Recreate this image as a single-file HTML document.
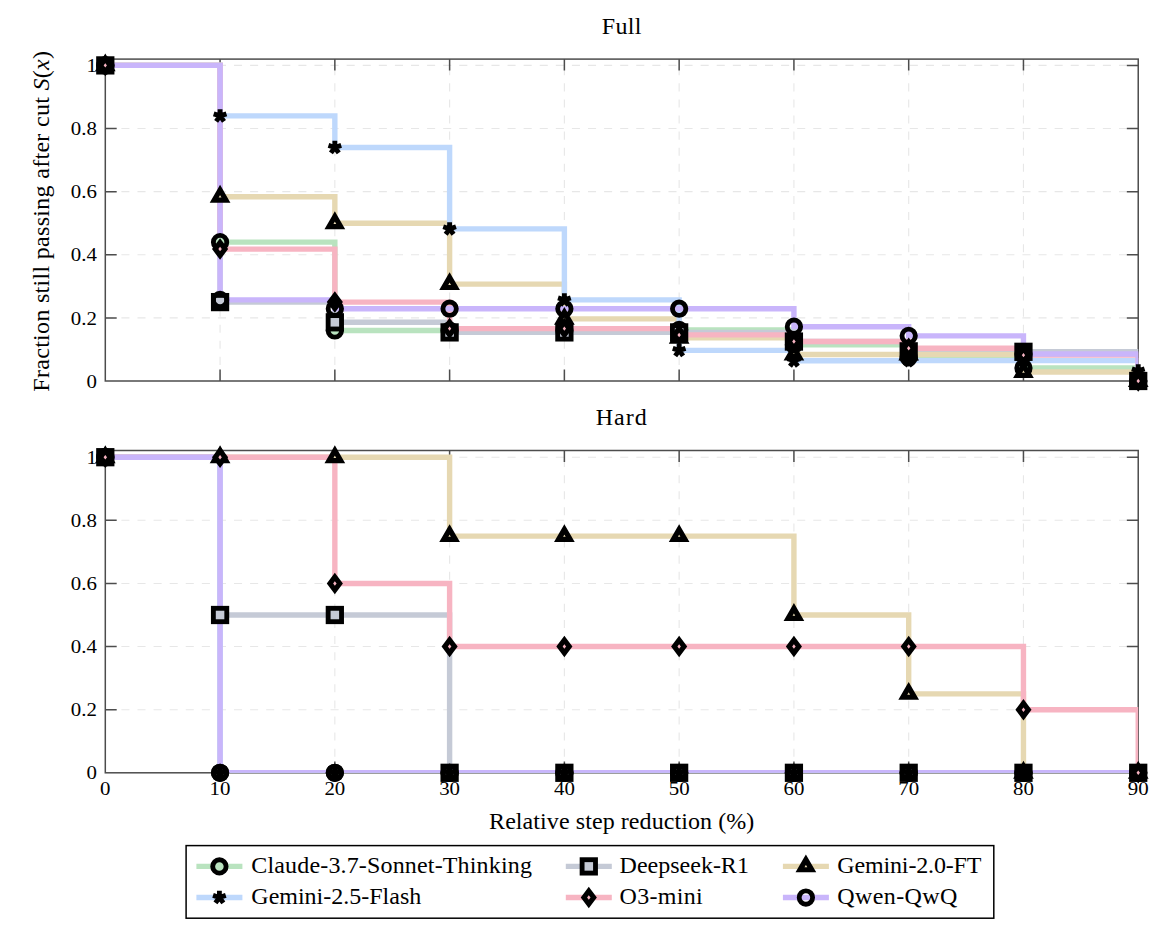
<!DOCTYPE html>
<html><head><meta charset="utf-8"><title>chart</title>
<style>html,body{margin:0;padding:0;background:#fff;width:1171px;height:927px;overflow:hidden} svg{display:block}</style>
</head><body>
<svg width="1171" height="927" viewBox="0 0 1171 927">
<style>text{font-family:"Liberation Serif",serif;fill:#000} .tk{font-size:19px} .lb{font-size:24px}</style>
<rect width="1171" height="927" fill="#fff"/>
<clipPath id="clip0"><rect x="105.3" y="59.1" width="1032.93" height="321.9"/></clipPath>
<path d="M220.07,381.0 L220.07,59.1 M334.84,381.0 L334.84,59.1 M449.61,381.0 L449.61,59.1 M564.38,381.0 L564.38,59.1 M679.15,381.0 L679.15,59.1 M793.92,381.0 L793.92,59.1 M908.69,381.0 L908.69,59.1 M1023.46,381.0 L1023.46,59.1 M105.3,317.88 L1138.23,317.88 M105.3,254.76 L1138.23,254.76 M105.3,191.64 L1138.23,191.64 M105.3,128.52 L1138.23,128.52 M105.3,65.40 L1138.23,65.40" stroke="#e7e7e7" stroke-width="1.1" stroke-dasharray="8.045 8.045" fill="none"/>
<path d="M220.07,381.0 l0,-11.4 M220.07,59.1 l0,11.4 M334.84,381.0 l0,-11.4 M334.84,59.1 l0,11.4 M449.61,381.0 l0,-11.4 M449.61,59.1 l0,11.4 M564.38,381.0 l0,-11.4 M564.38,59.1 l0,11.4 M679.15,381.0 l0,-11.4 M679.15,59.1 l0,11.4 M793.92,381.0 l0,-11.4 M793.92,59.1 l0,11.4 M908.69,381.0 l0,-11.4 M908.69,59.1 l0,11.4 M1023.46,381.0 l0,-11.4 M1023.46,59.1 l0,11.4 M105.3,317.88 l11.4,0 M1138.23,317.88 l-11.4,0 M105.3,254.76 l11.4,0 M1138.23,254.76 l-11.4,0 M105.3,191.64 l11.4,0 M1138.23,191.64 l-11.4,0 M105.3,128.52 l11.4,0 M1138.23,128.52 l-11.4,0 M105.3,65.40 l11.4,0 M1138.23,65.40 l-11.4,0" stroke="#4d4d4d" stroke-width="1.5" fill="none"/>
<rect x="105.3" y="59.1" width="1032.93" height="321.9" fill="none" stroke="#4d4d4d" stroke-width="1.5"/>
<path d="M105.30,65.40 L220.07,65.40 L220.07,242.14 L334.84,242.14 L334.84,330.50 L449.61,330.50 L449.61,330.50 L564.38,330.50 L564.38,330.50 L679.15,330.50 L679.15,329.87 L793.92,329.87 L793.92,344.71 L908.69,344.71 L908.69,357.33 L1023.46,357.33 L1023.46,368.06 L1138.23,368.06 L1138.23,381.00" stroke="#b9e3bf" stroke-width="5.4" fill="none" stroke-linejoin="miter" clip-path="url(#clip0)"/>
<path d="M105.30,65.40 L220.07,65.40 L220.07,302.10 L334.84,302.10 L334.84,322.30 L449.61,322.30 L449.61,332.40 L564.38,332.40 L564.38,332.40 L679.15,332.40 L679.15,332.40 L793.92,332.40 L793.92,341.55 L908.69,341.55 L908.69,351.33 L1023.46,351.33 L1023.46,351.81 L1138.23,351.81 L1138.23,381.00" stroke="#c5cad6" stroke-width="5.4" fill="none" stroke-linejoin="miter" clip-path="url(#clip0)"/>
<path d="M105.30,65.40 L220.07,65.40 L220.07,196.69 L334.84,196.69 L334.84,223.20 L449.61,223.20 L449.61,284.11 L564.38,284.11 L564.38,318.83 L679.15,318.83 L679.15,337.76 L793.92,337.76 L793.92,354.49 L908.69,354.49 L908.69,354.49 L1023.46,354.49 L1023.46,372.01 L1138.23,372.01 L1138.23,381.00" stroke="#e6d8b2" stroke-width="5.4" fill="none" stroke-linejoin="miter" clip-path="url(#clip0)"/>
<path d="M105.30,65.40 L220.07,65.40 L220.07,115.90 L334.84,115.90 L334.84,147.46 L449.61,147.46 L449.61,228.88 L564.38,228.88 L564.38,299.89 L679.15,299.89 L679.15,350.39 L793.92,350.39 L793.92,360.80 L908.69,360.80 L908.69,360.61 L1023.46,360.61 L1023.46,360.61 L1138.23,360.61 L1138.23,370.90" stroke="#bed8fc" stroke-width="5.4" fill="none" stroke-linejoin="miter" clip-path="url(#clip0)"/>
<path d="M105.30,65.40 L220.07,65.40 L220.07,249.08 L334.84,249.08 L334.84,302.10 L449.61,302.10 L449.61,328.61 L564.38,328.61 L564.38,328.61 L679.15,328.61 L679.15,334.92 L793.92,334.92 L793.92,341.55 L908.69,341.55 L908.69,348.18 L1023.46,348.18 L1023.46,355.12 L1138.23,355.12 L1138.23,381.00" stroke="#f7b4c2" stroke-width="5.4" fill="none" stroke-linejoin="miter" clip-path="url(#clip0)"/>
<path d="M105.30,65.40 L220.07,65.40 L220.07,299.89 L334.84,299.89 L334.84,308.73 L449.61,308.73 L449.61,308.73 L564.38,308.73 L564.38,308.73 L679.15,308.73 L679.15,308.73 L793.92,308.73 L793.92,326.72 L908.69,326.72 L908.69,335.87 L1023.46,335.87 L1023.46,353.98 L1138.23,353.98 L1138.23,381.00" stroke="#c9b5fb" stroke-width="5.4" fill="none" stroke-linejoin="miter" clip-path="url(#clip0)"/>
<circle cx="105.30" cy="65.40" r="6.7" fill="#b9e3bf" stroke="#000" stroke-width="4.85"/>
<circle cx="220.07" cy="242.14" r="6.7" fill="#b9e3bf" stroke="#000" stroke-width="4.85"/>
<circle cx="334.84" cy="330.50" r="6.7" fill="#b9e3bf" stroke="#000" stroke-width="4.85"/>
<circle cx="449.61" cy="330.50" r="6.7" fill="#b9e3bf" stroke="#000" stroke-width="4.85"/>
<circle cx="564.38" cy="330.50" r="6.7" fill="#b9e3bf" stroke="#000" stroke-width="4.85"/>
<circle cx="679.15" cy="329.87" r="6.7" fill="#b9e3bf" stroke="#000" stroke-width="4.85"/>
<circle cx="793.92" cy="344.71" r="6.7" fill="#b9e3bf" stroke="#000" stroke-width="4.85"/>
<circle cx="908.69" cy="357.33" r="6.7" fill="#b9e3bf" stroke="#000" stroke-width="4.85"/>
<circle cx="1023.46" cy="368.06" r="6.7" fill="#b9e3bf" stroke="#000" stroke-width="4.85"/>
<circle cx="1138.23" cy="381.00" r="6.7" fill="#b9e3bf" stroke="#000" stroke-width="4.85"/>
<rect x="98.60" y="58.70" width="13.4" height="13.4" fill="#c5cad6" stroke="#000" stroke-width="4.85" stroke-linejoin="miter"/>
<rect x="213.37" y="295.40" width="13.4" height="13.4" fill="#c5cad6" stroke="#000" stroke-width="4.85" stroke-linejoin="miter"/>
<rect x="328.14" y="315.60" width="13.4" height="13.4" fill="#c5cad6" stroke="#000" stroke-width="4.85" stroke-linejoin="miter"/>
<rect x="442.91" y="325.70" width="13.4" height="13.4" fill="#c5cad6" stroke="#000" stroke-width="4.85" stroke-linejoin="miter"/>
<rect x="557.68" y="325.70" width="13.4" height="13.4" fill="#c5cad6" stroke="#000" stroke-width="4.85" stroke-linejoin="miter"/>
<rect x="672.45" y="325.70" width="13.4" height="13.4" fill="#c5cad6" stroke="#000" stroke-width="4.85" stroke-linejoin="miter"/>
<rect x="787.22" y="334.85" width="13.4" height="13.4" fill="#c5cad6" stroke="#000" stroke-width="4.85" stroke-linejoin="miter"/>
<rect x="901.99" y="344.63" width="13.4" height="13.4" fill="#c5cad6" stroke="#000" stroke-width="4.85" stroke-linejoin="miter"/>
<rect x="1016.76" y="345.11" width="13.4" height="13.4" fill="#c5cad6" stroke="#000" stroke-width="4.85" stroke-linejoin="miter"/>
<rect x="1131.53" y="374.30" width="13.4" height="13.4" fill="#c5cad6" stroke="#000" stroke-width="4.85" stroke-linejoin="miter"/>
<path d="M105.30,58.65 L99.45,68.77 L111.15,68.77 Z" fill="#e6d8b2" stroke="#000" stroke-width="5.2" stroke-linejoin="miter" stroke-miterlimit="10"/>
<path d="M220.07,189.94 L214.22,200.06 L225.92,200.06 Z" fill="#e6d8b2" stroke="#000" stroke-width="5.2" stroke-linejoin="miter" stroke-miterlimit="10"/>
<path d="M334.84,216.45 L328.99,226.57 L340.69,226.57 Z" fill="#e6d8b2" stroke="#000" stroke-width="5.2" stroke-linejoin="miter" stroke-miterlimit="10"/>
<path d="M449.61,277.36 L443.76,287.49 L455.46,287.49 Z" fill="#e6d8b2" stroke="#000" stroke-width="5.2" stroke-linejoin="miter" stroke-miterlimit="10"/>
<path d="M564.38,312.08 L558.53,322.20 L570.23,322.20 Z" fill="#e6d8b2" stroke="#000" stroke-width="5.2" stroke-linejoin="miter" stroke-miterlimit="10"/>
<path d="M679.15,331.01 L673.30,341.14 L685.00,341.14 Z" fill="#e6d8b2" stroke="#000" stroke-width="5.2" stroke-linejoin="miter" stroke-miterlimit="10"/>
<path d="M793.92,347.74 L788.07,357.86 L799.77,357.86 Z" fill="#e6d8b2" stroke="#000" stroke-width="5.2" stroke-linejoin="miter" stroke-miterlimit="10"/>
<path d="M908.69,347.74 L902.84,357.86 L914.54,357.86 Z" fill="#e6d8b2" stroke="#000" stroke-width="5.2" stroke-linejoin="miter" stroke-miterlimit="10"/>
<path d="M1023.46,365.26 L1017.61,375.38 L1029.31,375.38 Z" fill="#e6d8b2" stroke="#000" stroke-width="5.2" stroke-linejoin="miter" stroke-miterlimit="10"/>
<path d="M1138.23,374.25 L1132.38,384.38 L1144.08,384.38 Z" fill="#e6d8b2" stroke="#000" stroke-width="5.2" stroke-linejoin="miter" stroke-miterlimit="10"/>
<path d="M105.30,58.70 L105.30,65.40 M111.67,63.33 L105.30,65.40 M109.24,70.82 L105.30,65.40 M101.36,70.82 L105.30,65.40 M98.93,63.33 L105.30,65.40" fill="none" stroke="#000" stroke-width="4.85" stroke-linecap="butt"/>
<path d="M220.07,109.20 L220.07,115.90 M226.44,113.83 L220.07,115.90 M224.01,121.32 L220.07,115.90 M216.13,121.32 L220.07,115.90 M213.70,113.83 L220.07,115.90" fill="none" stroke="#000" stroke-width="4.85" stroke-linecap="butt"/>
<path d="M334.84,140.76 L334.84,147.46 M341.21,145.39 L334.84,147.46 M338.78,152.88 L334.84,147.46 M330.90,152.88 L334.84,147.46 M328.47,145.39 L334.84,147.46" fill="none" stroke="#000" stroke-width="4.85" stroke-linecap="butt"/>
<path d="M449.61,222.18 L449.61,228.88 M455.98,226.81 L449.61,228.88 M453.55,234.30 L449.61,228.88 M445.67,234.30 L449.61,228.88 M443.24,226.81 L449.61,228.88" fill="none" stroke="#000" stroke-width="4.85" stroke-linecap="butt"/>
<path d="M564.38,293.19 L564.38,299.89 M570.75,297.82 L564.38,299.89 M568.32,305.31 L564.38,299.89 M560.44,305.31 L564.38,299.89 M558.01,297.82 L564.38,299.89" fill="none" stroke="#000" stroke-width="4.85" stroke-linecap="butt"/>
<path d="M679.15,343.69 L679.15,350.39 M685.52,348.32 L679.15,350.39 M683.09,355.81 L679.15,350.39 M675.21,355.81 L679.15,350.39 M672.78,348.32 L679.15,350.39" fill="none" stroke="#000" stroke-width="4.85" stroke-linecap="butt"/>
<path d="M793.92,354.10 L793.92,360.80 M800.29,358.73 L793.92,360.80 M797.86,366.22 L793.92,360.80 M789.98,366.22 L793.92,360.80 M787.55,358.73 L793.92,360.80" fill="none" stroke="#000" stroke-width="4.85" stroke-linecap="butt"/>
<path d="M908.69,353.91 L908.69,360.61 M915.06,358.54 L908.69,360.61 M912.63,366.03 L908.69,360.61 M904.75,366.03 L908.69,360.61 M902.32,358.54 L908.69,360.61" fill="none" stroke="#000" stroke-width="4.85" stroke-linecap="butt"/>
<path d="M1023.46,353.91 L1023.46,360.61 M1029.83,358.54 L1023.46,360.61 M1027.40,366.03 L1023.46,360.61 M1019.52,366.03 L1023.46,360.61 M1017.09,358.54 L1023.46,360.61" fill="none" stroke="#000" stroke-width="4.85" stroke-linecap="butt"/>
<path d="M1138.23,364.20 L1138.23,370.90 M1144.60,368.83 L1138.23,370.90 M1142.17,376.32 L1138.23,370.90 M1134.29,376.32 L1138.23,370.90 M1131.86,368.83 L1138.23,370.90" fill="none" stroke="#000" stroke-width="4.85" stroke-linecap="butt"/>
<path d="M105.30,58.90 L110.17,65.40 L105.30,71.90 L100.42,65.40 Z" fill="#f7b4c2" stroke="#000" stroke-width="5.1" stroke-linejoin="miter" stroke-miterlimit="10"/>
<path d="M220.07,242.58 L224.94,249.08 L220.07,255.58 L215.19,249.08 Z" fill="#f7b4c2" stroke="#000" stroke-width="5.1" stroke-linejoin="miter" stroke-miterlimit="10"/>
<path d="M334.84,295.60 L339.72,302.10 L334.84,308.60 L329.97,302.10 Z" fill="#f7b4c2" stroke="#000" stroke-width="5.1" stroke-linejoin="miter" stroke-miterlimit="10"/>
<path d="M449.61,322.11 L454.49,328.61 L449.61,335.11 L444.74,328.61 Z" fill="#f7b4c2" stroke="#000" stroke-width="5.1" stroke-linejoin="miter" stroke-miterlimit="10"/>
<path d="M564.38,322.11 L569.25,328.61 L564.38,335.11 L559.50,328.61 Z" fill="#f7b4c2" stroke="#000" stroke-width="5.1" stroke-linejoin="miter" stroke-miterlimit="10"/>
<path d="M679.15,328.42 L684.02,334.92 L679.15,341.42 L674.27,334.92 Z" fill="#f7b4c2" stroke="#000" stroke-width="5.1" stroke-linejoin="miter" stroke-miterlimit="10"/>
<path d="M793.92,335.05 L798.79,341.55 L793.92,348.05 L789.04,341.55 Z" fill="#f7b4c2" stroke="#000" stroke-width="5.1" stroke-linejoin="miter" stroke-miterlimit="10"/>
<path d="M908.69,341.68 L913.57,348.18 L908.69,354.68 L903.82,348.18 Z" fill="#f7b4c2" stroke="#000" stroke-width="5.1" stroke-linejoin="miter" stroke-miterlimit="10"/>
<path d="M1023.46,348.62 L1028.34,355.12 L1023.46,361.62 L1018.59,355.12 Z" fill="#f7b4c2" stroke="#000" stroke-width="5.1" stroke-linejoin="miter" stroke-miterlimit="10"/>
<path d="M1138.23,374.50 L1143.11,381.00 L1138.23,387.50 L1133.36,381.00 Z" fill="#f7b4c2" stroke="#000" stroke-width="5.1" stroke-linejoin="miter" stroke-miterlimit="10"/>
<circle cx="105.30" cy="65.40" r="6.7" fill="none" stroke="#000" stroke-width="4.85"/>
<circle cx="220.07" cy="299.89" r="6.7" fill="none" stroke="#000" stroke-width="4.85"/>
<circle cx="334.84" cy="308.73" r="6.7" fill="none" stroke="#000" stroke-width="4.85"/>
<circle cx="449.61" cy="308.73" r="6.7" fill="none" stroke="#000" stroke-width="4.85"/>
<circle cx="564.38" cy="308.73" r="6.7" fill="none" stroke="#000" stroke-width="4.85"/>
<circle cx="679.15" cy="308.73" r="6.7" fill="none" stroke="#000" stroke-width="4.85"/>
<circle cx="793.92" cy="326.72" r="6.7" fill="none" stroke="#000" stroke-width="4.85"/>
<circle cx="908.69" cy="335.87" r="6.7" fill="none" stroke="#000" stroke-width="4.85"/>
<circle cx="1023.46" cy="353.98" r="6.7" fill="none" stroke="#000" stroke-width="4.85"/>
<circle cx="1138.23" cy="381.00" r="6.7" fill="none" stroke="#000" stroke-width="4.85"/>
<text transform="translate(97,387.65) scale(1.1,1)" text-anchor="end" class="tk">0</text>
<text transform="translate(97,324.53) scale(1.1,1)" text-anchor="end" class="tk">0.2</text>
<text transform="translate(97,261.41) scale(1.1,1)" text-anchor="end" class="tk">0.4</text>
<text transform="translate(97,198.29) scale(1.1,1)" text-anchor="end" class="tk">0.6</text>
<text transform="translate(97,135.17) scale(1.1,1)" text-anchor="end" class="tk">0.8</text>
<text transform="translate(97,72.05) scale(1.1,1)" text-anchor="end" class="tk">1</text>
<text x="621.75" y="33.90" text-anchor="middle" class="lb" letter-spacing="0.3">Full</text>
<clipPath id="clip1"><rect x="105.3" y="450.5" width="1032.93" height="322.29999999999995"/></clipPath>
<path d="M220.07,772.8 L220.07,450.5 M334.84,772.8 L334.84,450.5 M449.61,772.8 L449.61,450.5 M564.38,772.8 L564.38,450.5 M679.15,772.8 L679.15,450.5 M793.92,772.8 L793.92,450.5 M908.69,772.8 L908.69,450.5 M1023.46,772.8 L1023.46,450.5 M105.3,709.68 L1138.23,709.68 M105.3,646.56 L1138.23,646.56 M105.3,583.44 L1138.23,583.44 M105.3,520.32 L1138.23,520.32 M105.3,457.20 L1138.23,457.20" stroke="#e7e7e7" stroke-width="1.1" stroke-dasharray="8.045 8.045" fill="none"/>
<path d="M220.07,772.8 l0,-11.4 M220.07,450.5 l0,11.4 M334.84,772.8 l0,-11.4 M334.84,450.5 l0,11.4 M449.61,772.8 l0,-11.4 M449.61,450.5 l0,11.4 M564.38,772.8 l0,-11.4 M564.38,450.5 l0,11.4 M679.15,772.8 l0,-11.4 M679.15,450.5 l0,11.4 M793.92,772.8 l0,-11.4 M793.92,450.5 l0,11.4 M908.69,772.8 l0,-11.4 M908.69,450.5 l0,11.4 M1023.46,772.8 l0,-11.4 M1023.46,450.5 l0,11.4 M105.3,709.68 l11.4,0 M1138.23,709.68 l-11.4,0 M105.3,646.56 l11.4,0 M1138.23,646.56 l-11.4,0 M105.3,583.44 l11.4,0 M1138.23,583.44 l-11.4,0 M105.3,520.32 l11.4,0 M1138.23,520.32 l-11.4,0 M105.3,457.20 l11.4,0 M1138.23,457.20 l-11.4,0" stroke="#4d4d4d" stroke-width="1.5" fill="none"/>
<rect x="105.3" y="450.5" width="1032.93" height="322.29999999999995" fill="none" stroke="#4d4d4d" stroke-width="1.5"/>
<path d="M105.30,457.20 L220.07,457.20 L220.07,772.80 L334.84,772.80 L334.84,772.80 L449.61,772.80 L449.61,772.80 L564.38,772.80 L564.38,772.80 L679.15,772.80 L679.15,772.80 L793.92,772.80 L793.92,772.80 L908.69,772.80 L908.69,772.80 L1023.46,772.80 L1023.46,772.80 L1138.23,772.80 L1138.23,772.80" stroke="#b9e3bf" stroke-width="5.4" fill="none" stroke-linejoin="miter" clip-path="url(#clip1)"/>
<path d="M105.30,457.20 L220.07,457.20 L220.07,615.00 L334.84,615.00 L334.84,615.00 L449.61,615.00 L449.61,772.80 L564.38,772.80 L564.38,772.80 L679.15,772.80 L679.15,772.80 L793.92,772.80 L793.92,772.80 L908.69,772.80 L908.69,772.80 L1023.46,772.80 L1023.46,772.80 L1138.23,772.80 L1138.23,772.80" stroke="#c5cad6" stroke-width="5.4" fill="none" stroke-linejoin="miter" clip-path="url(#clip1)"/>
<path d="M105.30,457.20 L220.07,457.20 L220.07,457.20 L334.84,457.20 L334.84,457.20 L449.61,457.20 L449.61,536.10 L564.38,536.10 L564.38,536.10 L679.15,536.10 L679.15,536.10 L793.92,536.10 L793.92,615.00 L908.69,615.00 L908.69,693.90 L1023.46,693.90 L1023.46,772.80 L1138.23,772.80 L1138.23,772.80" stroke="#e6d8b2" stroke-width="5.4" fill="none" stroke-linejoin="miter" clip-path="url(#clip1)"/>
<path d="M105.30,457.20 L220.07,457.20 L220.07,772.80 L334.84,772.80 L334.84,772.80 L449.61,772.80 L449.61,772.80 L564.38,772.80 L564.38,772.80 L679.15,772.80 L679.15,772.80 L793.92,772.80 L793.92,772.80 L908.69,772.80 L908.69,772.80 L1023.46,772.80 L1023.46,772.80 L1138.23,772.80 L1138.23,772.80" stroke="#bed8fc" stroke-width="5.4" fill="none" stroke-linejoin="miter" clip-path="url(#clip1)"/>
<path d="M105.30,457.20 L220.07,457.20 L220.07,457.20 L334.84,457.20 L334.84,583.44 L449.61,583.44 L449.61,646.56 L564.38,646.56 L564.38,646.56 L679.15,646.56 L679.15,646.56 L793.92,646.56 L793.92,646.56 L908.69,646.56 L908.69,646.56 L1023.46,646.56 L1023.46,709.68 L1138.23,709.68 L1138.23,772.80" stroke="#f7b4c2" stroke-width="5.4" fill="none" stroke-linejoin="miter" clip-path="url(#clip1)"/>
<path d="M105.30,457.20 L220.07,457.20 L220.07,772.80 L334.84,772.80 L334.84,772.80 L449.61,772.80 L449.61,772.80 L564.38,772.80 L564.38,772.80 L679.15,772.80 L679.15,772.80 L793.92,772.80 L793.92,772.80 L908.69,772.80 L908.69,772.80 L1023.46,772.80 L1023.46,772.80 L1138.23,772.80 L1138.23,772.80" stroke="#c9b5fb" stroke-width="5.4" fill="none" stroke-linejoin="miter" clip-path="url(#clip1)"/>
<circle cx="105.30" cy="457.20" r="6.7" fill="#b9e3bf" stroke="#000" stroke-width="4.85"/>
<circle cx="220.07" cy="772.80" r="6.7" fill="#b9e3bf" stroke="#000" stroke-width="4.85"/>
<circle cx="334.84" cy="772.80" r="6.7" fill="#b9e3bf" stroke="#000" stroke-width="4.85"/>
<circle cx="449.61" cy="772.80" r="6.7" fill="#b9e3bf" stroke="#000" stroke-width="4.85"/>
<circle cx="564.38" cy="772.80" r="6.7" fill="#b9e3bf" stroke="#000" stroke-width="4.85"/>
<circle cx="679.15" cy="772.80" r="6.7" fill="#b9e3bf" stroke="#000" stroke-width="4.85"/>
<circle cx="793.92" cy="772.80" r="6.7" fill="#b9e3bf" stroke="#000" stroke-width="4.85"/>
<circle cx="908.69" cy="772.80" r="6.7" fill="#b9e3bf" stroke="#000" stroke-width="4.85"/>
<circle cx="1023.46" cy="772.80" r="6.7" fill="#b9e3bf" stroke="#000" stroke-width="4.85"/>
<circle cx="1138.23" cy="772.80" r="6.7" fill="#b9e3bf" stroke="#000" stroke-width="4.85"/>
<rect x="98.60" y="450.50" width="13.4" height="13.4" fill="#c5cad6" stroke="#000" stroke-width="4.85" stroke-linejoin="miter"/>
<rect x="213.37" y="608.30" width="13.4" height="13.4" fill="#c5cad6" stroke="#000" stroke-width="4.85" stroke-linejoin="miter"/>
<rect x="328.14" y="608.30" width="13.4" height="13.4" fill="#c5cad6" stroke="#000" stroke-width="4.85" stroke-linejoin="miter"/>
<rect x="442.91" y="766.10" width="13.4" height="13.4" fill="#c5cad6" stroke="#000" stroke-width="4.85" stroke-linejoin="miter"/>
<rect x="557.68" y="766.10" width="13.4" height="13.4" fill="#c5cad6" stroke="#000" stroke-width="4.85" stroke-linejoin="miter"/>
<rect x="672.45" y="766.10" width="13.4" height="13.4" fill="#c5cad6" stroke="#000" stroke-width="4.85" stroke-linejoin="miter"/>
<rect x="787.22" y="766.10" width="13.4" height="13.4" fill="#c5cad6" stroke="#000" stroke-width="4.85" stroke-linejoin="miter"/>
<rect x="901.99" y="766.10" width="13.4" height="13.4" fill="#c5cad6" stroke="#000" stroke-width="4.85" stroke-linejoin="miter"/>
<rect x="1016.76" y="766.10" width="13.4" height="13.4" fill="#c5cad6" stroke="#000" stroke-width="4.85" stroke-linejoin="miter"/>
<rect x="1131.53" y="766.10" width="13.4" height="13.4" fill="#c5cad6" stroke="#000" stroke-width="4.85" stroke-linejoin="miter"/>
<path d="M105.30,450.45 L99.45,460.57 L111.15,460.57 Z" fill="#e6d8b2" stroke="#000" stroke-width="5.2" stroke-linejoin="miter" stroke-miterlimit="10"/>
<path d="M220.07,450.45 L214.22,460.57 L225.92,460.57 Z" fill="#e6d8b2" stroke="#000" stroke-width="5.2" stroke-linejoin="miter" stroke-miterlimit="10"/>
<path d="M334.84,450.45 L328.99,460.57 L340.69,460.57 Z" fill="#e6d8b2" stroke="#000" stroke-width="5.2" stroke-linejoin="miter" stroke-miterlimit="10"/>
<path d="M449.61,529.35 L443.76,539.47 L455.46,539.47 Z" fill="#e6d8b2" stroke="#000" stroke-width="5.2" stroke-linejoin="miter" stroke-miterlimit="10"/>
<path d="M564.38,529.35 L558.53,539.47 L570.23,539.47 Z" fill="#e6d8b2" stroke="#000" stroke-width="5.2" stroke-linejoin="miter" stroke-miterlimit="10"/>
<path d="M679.15,529.35 L673.30,539.47 L685.00,539.47 Z" fill="#e6d8b2" stroke="#000" stroke-width="5.2" stroke-linejoin="miter" stroke-miterlimit="10"/>
<path d="M793.92,608.25 L788.07,618.38 L799.77,618.38 Z" fill="#e6d8b2" stroke="#000" stroke-width="5.2" stroke-linejoin="miter" stroke-miterlimit="10"/>
<path d="M908.69,687.15 L902.84,697.27 L914.54,697.27 Z" fill="#e6d8b2" stroke="#000" stroke-width="5.2" stroke-linejoin="miter" stroke-miterlimit="10"/>
<path d="M1023.46,766.05 L1017.61,776.17 L1029.31,776.17 Z" fill="#e6d8b2" stroke="#000" stroke-width="5.2" stroke-linejoin="miter" stroke-miterlimit="10"/>
<path d="M1138.23,766.05 L1132.38,776.17 L1144.08,776.17 Z" fill="#e6d8b2" stroke="#000" stroke-width="5.2" stroke-linejoin="miter" stroke-miterlimit="10"/>
<path d="M105.30,450.50 L105.30,457.20 M111.67,455.13 L105.30,457.20 M109.24,462.62 L105.30,457.20 M101.36,462.62 L105.30,457.20 M98.93,455.13 L105.30,457.20" fill="none" stroke="#000" stroke-width="4.85" stroke-linecap="butt"/>
<path d="M220.07,766.10 L220.07,772.80 M226.44,770.73 L220.07,772.80 M224.01,778.22 L220.07,772.80 M216.13,778.22 L220.07,772.80 M213.70,770.73 L220.07,772.80" fill="none" stroke="#000" stroke-width="4.85" stroke-linecap="butt"/>
<path d="M334.84,766.10 L334.84,772.80 M341.21,770.73 L334.84,772.80 M338.78,778.22 L334.84,772.80 M330.90,778.22 L334.84,772.80 M328.47,770.73 L334.84,772.80" fill="none" stroke="#000" stroke-width="4.85" stroke-linecap="butt"/>
<path d="M449.61,766.10 L449.61,772.80 M455.98,770.73 L449.61,772.80 M453.55,778.22 L449.61,772.80 M445.67,778.22 L449.61,772.80 M443.24,770.73 L449.61,772.80" fill="none" stroke="#000" stroke-width="4.85" stroke-linecap="butt"/>
<path d="M564.38,766.10 L564.38,772.80 M570.75,770.73 L564.38,772.80 M568.32,778.22 L564.38,772.80 M560.44,778.22 L564.38,772.80 M558.01,770.73 L564.38,772.80" fill="none" stroke="#000" stroke-width="4.85" stroke-linecap="butt"/>
<path d="M679.15,766.10 L679.15,772.80 M685.52,770.73 L679.15,772.80 M683.09,778.22 L679.15,772.80 M675.21,778.22 L679.15,772.80 M672.78,770.73 L679.15,772.80" fill="none" stroke="#000" stroke-width="4.85" stroke-linecap="butt"/>
<path d="M793.92,766.10 L793.92,772.80 M800.29,770.73 L793.92,772.80 M797.86,778.22 L793.92,772.80 M789.98,778.22 L793.92,772.80 M787.55,770.73 L793.92,772.80" fill="none" stroke="#000" stroke-width="4.85" stroke-linecap="butt"/>
<path d="M908.69,766.10 L908.69,772.80 M915.06,770.73 L908.69,772.80 M912.63,778.22 L908.69,772.80 M904.75,778.22 L908.69,772.80 M902.32,770.73 L908.69,772.80" fill="none" stroke="#000" stroke-width="4.85" stroke-linecap="butt"/>
<path d="M1023.46,766.10 L1023.46,772.80 M1029.83,770.73 L1023.46,772.80 M1027.40,778.22 L1023.46,772.80 M1019.52,778.22 L1023.46,772.80 M1017.09,770.73 L1023.46,772.80" fill="none" stroke="#000" stroke-width="4.85" stroke-linecap="butt"/>
<path d="M1138.23,766.10 L1138.23,772.80 M1144.60,770.73 L1138.23,772.80 M1142.17,778.22 L1138.23,772.80 M1134.29,778.22 L1138.23,772.80 M1131.86,770.73 L1138.23,772.80" fill="none" stroke="#000" stroke-width="4.85" stroke-linecap="butt"/>
<path d="M105.30,450.70 L110.17,457.20 L105.30,463.70 L100.42,457.20 Z" fill="#f7b4c2" stroke="#000" stroke-width="5.1" stroke-linejoin="miter" stroke-miterlimit="10"/>
<path d="M220.07,450.70 L224.94,457.20 L220.07,463.70 L215.19,457.20 Z" fill="#f7b4c2" stroke="#000" stroke-width="5.1" stroke-linejoin="miter" stroke-miterlimit="10"/>
<path d="M334.84,576.94 L339.72,583.44 L334.84,589.94 L329.97,583.44 Z" fill="#f7b4c2" stroke="#000" stroke-width="5.1" stroke-linejoin="miter" stroke-miterlimit="10"/>
<path d="M449.61,640.06 L454.49,646.56 L449.61,653.06 L444.74,646.56 Z" fill="#f7b4c2" stroke="#000" stroke-width="5.1" stroke-linejoin="miter" stroke-miterlimit="10"/>
<path d="M564.38,640.06 L569.25,646.56 L564.38,653.06 L559.50,646.56 Z" fill="#f7b4c2" stroke="#000" stroke-width="5.1" stroke-linejoin="miter" stroke-miterlimit="10"/>
<path d="M679.15,640.06 L684.02,646.56 L679.15,653.06 L674.27,646.56 Z" fill="#f7b4c2" stroke="#000" stroke-width="5.1" stroke-linejoin="miter" stroke-miterlimit="10"/>
<path d="M793.92,640.06 L798.79,646.56 L793.92,653.06 L789.04,646.56 Z" fill="#f7b4c2" stroke="#000" stroke-width="5.1" stroke-linejoin="miter" stroke-miterlimit="10"/>
<path d="M908.69,640.06 L913.57,646.56 L908.69,653.06 L903.82,646.56 Z" fill="#f7b4c2" stroke="#000" stroke-width="5.1" stroke-linejoin="miter" stroke-miterlimit="10"/>
<path d="M1023.46,703.18 L1028.34,709.68 L1023.46,716.18 L1018.59,709.68 Z" fill="#f7b4c2" stroke="#000" stroke-width="5.1" stroke-linejoin="miter" stroke-miterlimit="10"/>
<path d="M1138.23,766.30 L1143.11,772.80 L1138.23,779.30 L1133.36,772.80 Z" fill="#f7b4c2" stroke="#000" stroke-width="5.1" stroke-linejoin="miter" stroke-miterlimit="10"/>
<circle cx="105.30" cy="457.20" r="6.7" fill="none" stroke="#000" stroke-width="4.85"/>
<circle cx="220.07" cy="772.80" r="6.7" fill="none" stroke="#000" stroke-width="4.85"/>
<circle cx="334.84" cy="772.80" r="6.7" fill="none" stroke="#000" stroke-width="4.85"/>
<circle cx="449.61" cy="772.80" r="6.7" fill="none" stroke="#000" stroke-width="4.85"/>
<circle cx="564.38" cy="772.80" r="6.7" fill="none" stroke="#000" stroke-width="4.85"/>
<circle cx="679.15" cy="772.80" r="6.7" fill="none" stroke="#000" stroke-width="4.85"/>
<circle cx="793.92" cy="772.80" r="6.7" fill="none" stroke="#000" stroke-width="4.85"/>
<circle cx="908.69" cy="772.80" r="6.7" fill="none" stroke="#000" stroke-width="4.85"/>
<circle cx="1023.46" cy="772.80" r="6.7" fill="none" stroke="#000" stroke-width="4.85"/>
<circle cx="1138.23" cy="772.80" r="6.7" fill="none" stroke="#000" stroke-width="4.85"/>
<text transform="translate(97,779.45) scale(1.1,1)" text-anchor="end" class="tk">0</text>
<text transform="translate(97,716.33) scale(1.1,1)" text-anchor="end" class="tk">0.2</text>
<text transform="translate(97,653.21) scale(1.1,1)" text-anchor="end" class="tk">0.4</text>
<text transform="translate(97,590.09) scale(1.1,1)" text-anchor="end" class="tk">0.6</text>
<text transform="translate(97,526.97) scale(1.1,1)" text-anchor="end" class="tk">0.8</text>
<text transform="translate(97,463.85) scale(1.1,1)" text-anchor="end" class="tk">1</text>
<text transform="translate(105.30,795) scale(1.1,1)" text-anchor="middle" class="tk">0</text>
<text transform="translate(220.07,795) scale(1.1,1)" text-anchor="middle" class="tk">10</text>
<text transform="translate(334.84,795) scale(1.1,1)" text-anchor="middle" class="tk">20</text>
<text transform="translate(449.61,795) scale(1.1,1)" text-anchor="middle" class="tk">30</text>
<text transform="translate(564.38,795) scale(1.1,1)" text-anchor="middle" class="tk">40</text>
<text transform="translate(679.15,795) scale(1.1,1)" text-anchor="middle" class="tk">50</text>
<text transform="translate(793.92,795) scale(1.1,1)" text-anchor="middle" class="tk">60</text>
<text transform="translate(908.69,795) scale(1.1,1)" text-anchor="middle" class="tk">70</text>
<text transform="translate(1023.46,795) scale(1.1,1)" text-anchor="middle" class="tk">80</text>
<text transform="translate(1138.23,795) scale(1.1,1)" text-anchor="middle" class="tk">90</text>
<text x="621.75" y="425.30" text-anchor="middle" class="lb" letter-spacing="1">Hard</text>
<text x="621.75" y="828.9" text-anchor="middle" class="lb" letter-spacing="0.08">Relative step reduction (%)</text>
<text transform="translate(49.1,391.7) rotate(-90)" class="lb" textLength="340.7" lengthAdjust="spacing">Fraction still passing after cut <tspan font-style="italic">S</tspan>(<tspan font-style="italic">x</tspan>)</text>
<rect x="186.1" y="845.6" width="807.7" height="72.6" fill="#fff" stroke="#000" stroke-width="1.5"/>
<path d="M196.4,866.4 L242.4,866.4" stroke="#b9e3bf" stroke-width="5.4" fill="none"/>
<circle cx="219.40" cy="866.40" r="6.7" fill="#b9e3bf" stroke="#000" stroke-width="4.85"/>
<text x="251.3" y="873.0" class="lb" letter-spacing="0.16">Claude-3.7-Sonnet-Thinking</text>
<path d="M565.8,866.4 L611.8,866.4" stroke="#c5cad6" stroke-width="5.4" fill="none"/>
<rect x="582.10" y="859.70" width="13.4" height="13.4" fill="#c5cad6" stroke="#000" stroke-width="4.85" stroke-linejoin="miter"/>
<text x="619.6" y="873.0" class="lb" letter-spacing="0">Deepseek-R1</text>
<path d="M782.9,866.4 L828.9,866.4" stroke="#e6d8b2" stroke-width="5.4" fill="none"/>
<path d="M805.90,859.65 L800.05,869.77 L811.75,869.77 Z" fill="#e6d8b2" stroke="#000" stroke-width="5.2" stroke-linejoin="miter" stroke-miterlimit="10"/>
<text x="837.3" y="873.0" class="lb" letter-spacing="-0.15">Gemini-2.0-FT</text>
<path d="M196.4,897.5 L242.4,897.5" stroke="#bed8fc" stroke-width="5.4" fill="none"/>
<path d="M219.40,890.80 L219.40,897.50 M225.77,895.43 L219.40,897.50 M223.34,902.92 L219.40,897.50 M215.46,902.92 L219.40,897.50 M213.03,895.43 L219.40,897.50" fill="none" stroke="#000" stroke-width="4.85" stroke-linecap="butt"/>
<text x="251.3" y="903.9" class="lb" letter-spacing="0">Gemini-2.5-Flash</text>
<path d="M565.8,897.5 L611.8,897.5" stroke="#f7b4c2" stroke-width="5.4" fill="none"/>
<path d="M588.80,891.00 L593.67,897.50 L588.80,904.00 L583.92,897.50 Z" fill="#f7b4c2" stroke="#000" stroke-width="5.1" stroke-linejoin="miter" stroke-miterlimit="10"/>
<text x="619.6" y="903.9" class="lb" letter-spacing="0.3">O3-mini</text>
<path d="M782.9,897.5 L828.9,897.5" stroke="#c9b5fb" stroke-width="5.4" fill="none"/>
<circle cx="805.90" cy="897.50" r="6.7" fill="none" stroke="#000" stroke-width="4.85"/>
<text x="837.3" y="903.9" class="lb" letter-spacing="0.4">Qwen-QwQ</text>
</svg>
</body></html>
